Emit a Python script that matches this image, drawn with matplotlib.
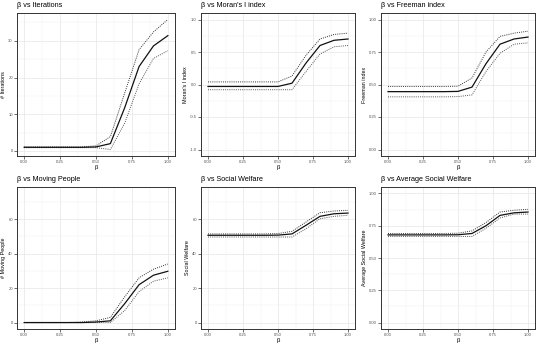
import numpy as np
import matplotlib
matplotlib.use('Agg')
import matplotlib.pyplot as plt
from matplotlib.ticker import MultipleLocator, FormatStrFormatter

plt.rcParams['font.family'] = ['Liberation Sans', 'DejaVu Sans']

beta = [0.0, 0.1, 0.2, 0.3, 0.4, 0.5, 0.6, 0.7, 0.8, 0.9, 1.0]

iter_mean = [1.0, 1.0, 1.0, 1.0, 1.0, 1.1, 2.0, 11.8, 23.0, 28.6, 31.4]
iter_upper = [1.1, 1.1, 1.1, 1.1, 1.1, 1.4, 3.9, 15.8, 27.6, 32.4, 35.8]
iter_lower = [0.9, 0.9, 0.9, 0.9, 0.9, 0.9, 0.4, 7.6, 18.3, 25.2, 27.3]

moran_mean = [-0.03, -0.03, -0.03, -0.03, -0.03, -0.03, 0.02, 0.33, 0.60, 0.68, 0.70]
moran_upper = [0.04, 0.04, 0.04, 0.04, 0.04, 0.04, 0.13, 0.45, 0.70, 0.77, 0.79]
moran_lower = [-0.08, -0.08, -0.08, -0.08, -0.08, -0.08, -0.08, 0.20, 0.47, 0.58, 0.60]

free_mean = [0.445, 0.445, 0.445, 0.445, 0.445, 0.447, 0.48, 0.66, 0.81, 0.85, 0.865]
free_upper = [0.485, 0.485, 0.485, 0.485, 0.485, 0.487, 0.55, 0.75, 0.87, 0.895, 0.91]
free_lower = [0.405, 0.405, 0.405, 0.405, 0.405, 0.407, 0.42, 0.60, 0.74, 0.81, 0.82]

move_mean = [0.0, 0.0, 0.0, 0.0, 0.0, 0.3, 1.0, 11.0, 22.0, 27.5, 29.8]
move_upper = [0.0, 0.0, 0.0, 0.0, 0.3, 1.0, 3.0, 15.0, 26.0, 31.0, 34.0]
move_lower = [0.0, 0.0, 0.0, 0.0, 0.0, 0.0, 0.0, 7.0, 18.0, 24.0, 26.0]

sw_mean = [50.7, 50.7, 50.7, 50.7, 50.7, 50.8, 51.5, 56.5, 61.7, 63.2, 63.6]
sw_upper = [51.5, 51.5, 51.5, 51.5, 51.5, 51.7, 53.0, 58.4, 63.8, 64.8, 65.2]
sw_lower = [49.7, 49.7, 49.7, 49.7, 49.7, 49.7, 49.7, 54.5, 60.3, 61.7, 62.3]

asw_mean = [0.679, 0.679, 0.679, 0.679, 0.679, 0.680, 0.69, 0.75, 0.83, 0.85, 0.856]
asw_upper = [0.69, 0.69, 0.69, 0.69, 0.69, 0.692, 0.71, 0.775, 0.856, 0.87, 0.877]
asw_lower = [0.667, 0.667, 0.667, 0.667, 0.667, 0.667, 0.667, 0.73, 0.81, 0.84, 0.84]

panels = [
    ('β vs Iterations', '# Iterations', iter_mean, iter_upper, iter_lower, None, 10, 5),
    ("β vs Moran's I index", "Moran's I index", moran_mean, moran_upper, moran_lower, (-1, 1), 0.5, 0.25),
    ('β vs Freeman index', 'Freeman index', free_mean, free_upper, free_lower, (0, 1), 0.25, 0.125),
    ('β vs Moving People', '# Moving People', move_mean, move_upper, move_lower, (0, 75), 20, 10),
    ('β vs Social Welfare', 'Social Welfare', sw_mean, sw_upper, sw_lower, (0, 75), 20, 10),
    ('β vs Average Social Welfare', 'Average Social Welfare', asw_mean, asw_upper, asw_lower, (0, 1), 0.25, 0.125),
]

fig = plt.figure(figsize=(5.4, 3.47), dpi=100)

W, H = 540.0, 347.0
lefts = [17, 201, 381]
rights = [175, 355, 535]
tops = [13, 187]
bottoms = [156, 329]

for i, (title, ylabel, mean, upper, lower, lims, major, minor) in enumerate(panels):
    r, c = divmod(i, 3)
    ax = fig.add_axes([lefts[c] / W, 1 - bottoms[r] / H,
                       (rights[c] - lefts[c]) / W, (bottoms[r] - tops[r]) / H])
    ax.plot(beta, upper, color='#333333', lw=0.7, linestyle=(0, (1, 1.2)))
    ax.plot(beta, lower, color='#555555', lw=0.7, linestyle=(0, (1, 1.2)))
    ax.plot(beta, mean, color='#111111', lw=0.9)

    if lims is None:
        lo = min(lower)
        hi = max(upper)
    else:
        lo, hi = lims
    pad = 0.05 * (hi - lo)
    ax.set_ylim(lo - pad, hi + pad)
    ax.set_xlim(-0.05, 1.05)

    ax.xaxis.set_major_locator(MultipleLocator(0.25))
    ax.xaxis.set_minor_locator(MultipleLocator(0.125))
    ax.xaxis.set_major_formatter(FormatStrFormatter('%.2f'))
    ax.yaxis.set_major_locator(MultipleLocator(major))
    ax.yaxis.set_minor_locator(MultipleLocator(minor))
    if major < 1:
        fmt = '%.1f' if major == 0.5 else '%.2f'
        ax.yaxis.set_major_formatter(FormatStrFormatter(fmt))
    else:
        ax.yaxis.set_major_formatter(FormatStrFormatter('%d'))

    ax.grid(True, which='major', color='#e6e6e6', lw=0.5)
    ax.grid(True, which='minor', color='#f0f0f0', lw=0.3)
    ax.set_axisbelow(True)
    for s in ax.spines.values():
        s.set_color('#333333')
        s.set_linewidth(0.7)
    ax.tick_params(which='major', length=2, width=0.5, color='#333333',
                   labelsize=3.0, labelcolor='#4d4d4d', pad=1.0)
    ax.tick_params(which='minor', length=0)

    ax.set_xlabel('β', fontsize=4.2, labelpad=0.5)
    ax.set_ylabel(ylabel, fontsize=3.9, labelpad=1.5)
    ax.set_title(title, fontsize=5.2, loc='left', pad=4)

fig.savefig('out.png', dpi=100)
